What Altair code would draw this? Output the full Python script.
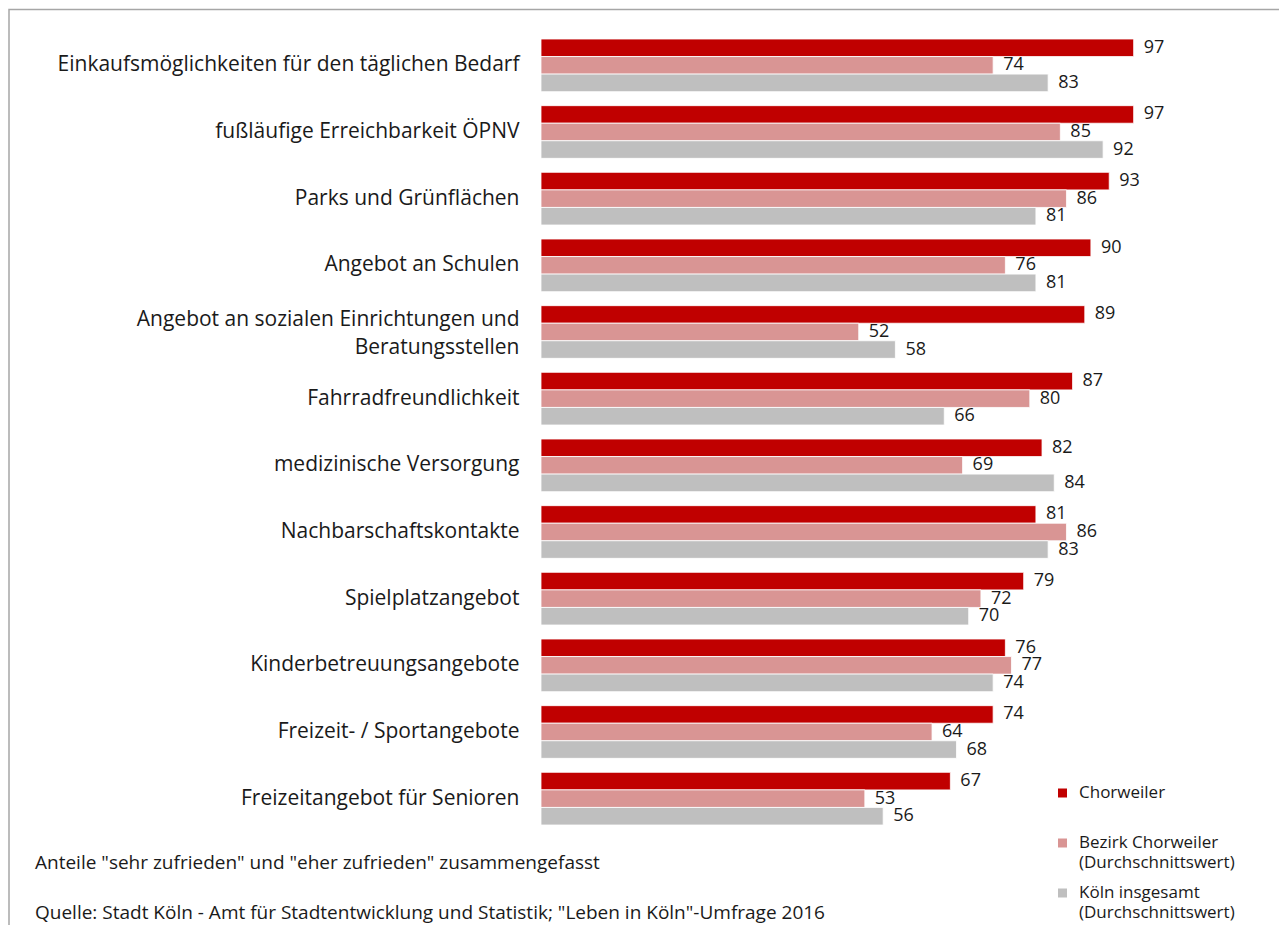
import altair as alt
import pandas as pd

categories = [
    "Einkaufsmöglichkeiten für den täglichen Bedarf",
    "fußläufige Erreichbarkeit ÖPNV",
    "Parks und Grünflächen",
    "Angebot an Schulen",
    "Angebot an sozialen Einrichtungen und\nBeratungsstellen",
    "Fahrradfreundlichkeit",
    "medizinische Versorgung",
    "Nachbarschaftskontakte",
    "Spielplatzangebot",
    "Kinderbetreuungsangebote",
    "Freizeit- / Sportangebote",
    "Freizeitangebot für Senioren",
]
series = [
    "Chorweiler",
    "Bezirk Chorweiler\n(Durchschnittswert)",
    "Köln insgesamt\n(Durchschnittswert)",
]
chorweiler = [97, 97, 93, 90, 89, 87, 82, 81, 79, 76, 74, 67]
bezirk = [74, 85, 86, 76, 52, 80, 69, 86, 72, 77, 64, 53]
koeln = [83, 92, 81, 81, 58, 66, 84, 83, 70, 74, 68, 56]
colors = ["#C00000", "#D99594", "#BFBFBF"]
note1 = 'Anteile "sehr zufrieden" und "eher zufrieden" zusammengefasst'
note2 = 'Quelle: Stadt Köln - Amt für Stadtentwicklung und Statistik; "Leben in Köln"-Umfrage 2016'

rows = []
for s, vals in zip(series, [chorweiler, bezirk, koeln]):
    for c, v in zip(categories, vals):
        rows.append({"Kategorie": c, "Serie": s, "Wert": v})
df = pd.DataFrame(rows)

FONT = "Open Sans"
W, H = 611, 800

y_enc = alt.Y(
    "Kategorie:N",
    sort=categories,
    scale=alt.Scale(domain=categories, paddingInner=0.21, paddingOuter=0.105),
    axis=alt.Axis(
        title=None, domain=False, ticks=False, labelPadding=22, labelLimit=700,
        labelFont=FONT, labelFontSize=21, labelColor="#1a1a1a",
        labelExpr="split(datum.label, '\\n')", labelLineHeight=28,
        labelOffset={"condition": {"test": "indexof(datum.label, '\\n') >= 0", "value": -12}, "value": 0},
    ),
)
yoff = alt.YOffset("Serie:N", sort=series, scale=alt.Scale(domain=series, paddingInner=0, paddingOuter=0))
x_enc = alt.X("Wert:Q", scale=alt.Scale(domain=[0, 100]), axis=None)

bars = alt.Chart(df).mark_bar(stroke="white", strokeWidth=0.8).encode(
    y=y_enc,
    yOffset=yoff,
    x=x_enc,
    color=alt.Color(
        "Serie:N",
        sort=series,
        scale=alt.Scale(domain=series, range=colors),
        legend=alt.Legend(
            title=None, orient="none", legendX=513, legendY=752.5,
            symbolType="square", symbolSize=81, symbolStrokeWidth=0,
            labelFont=FONT, labelFontSize=17, labelColor="#1a1a1a",
            labelExpr="split(datum.label + (indexof(datum.label, '\\n') < 0 ? '\\n ' : ''), '\\n')",
            labelOffset=8, labelLimit=300, rowPadding=12, padding=0,
        ),
    ),
)

labels = alt.Chart(df).mark_text(
    align="left", baseline="middle", dx=10, font=FONT, fontSize=18, color="#1a1a1a"
).encode(y=y_enc, yOffset=yoff, x=x_enc, text=alt.Text("Wert:Q", format=".0f"))

one = pd.DataFrame({"k": [0]})
frame = alt.Chart(one).mark_rect(fillOpacity=0, stroke="#A6A6A6", strokeWidth=1.5).encode(
    x=alt.value(-532), x2=alt.value(W + 160), y=alt.value(-22.5), y2=alt.value(H + 120)
)
n1 = alt.Chart(one).mark_text(align="left", baseline="middle", font=FONT, fontSize=19, color="#1a1a1a").encode(
    x=alt.value(-506), y=alt.value(831), text=alt.value(note1)
)
n2 = alt.Chart(one).mark_text(align="left", baseline="middle", font=FONT, fontSize=19, color="#1a1a1a").encode(
    x=alt.value(-506), y=alt.value(881), text=alt.value(note2)
)

chart = alt.layer(frame, bars, labels, n1, n2).properties(
    width=W, height=H,
    autosize=alt.AutoSizeParams(type="none"),
    padding={"left": 533, "top": 24, "right": 127, "bottom": 93},
).configure(
    style={"guide-label": {"lineHeight": 20}}
).configure_view(stroke=None)

chart.save("out.html", embed_options={"renderer": "svg", "actions": False})
